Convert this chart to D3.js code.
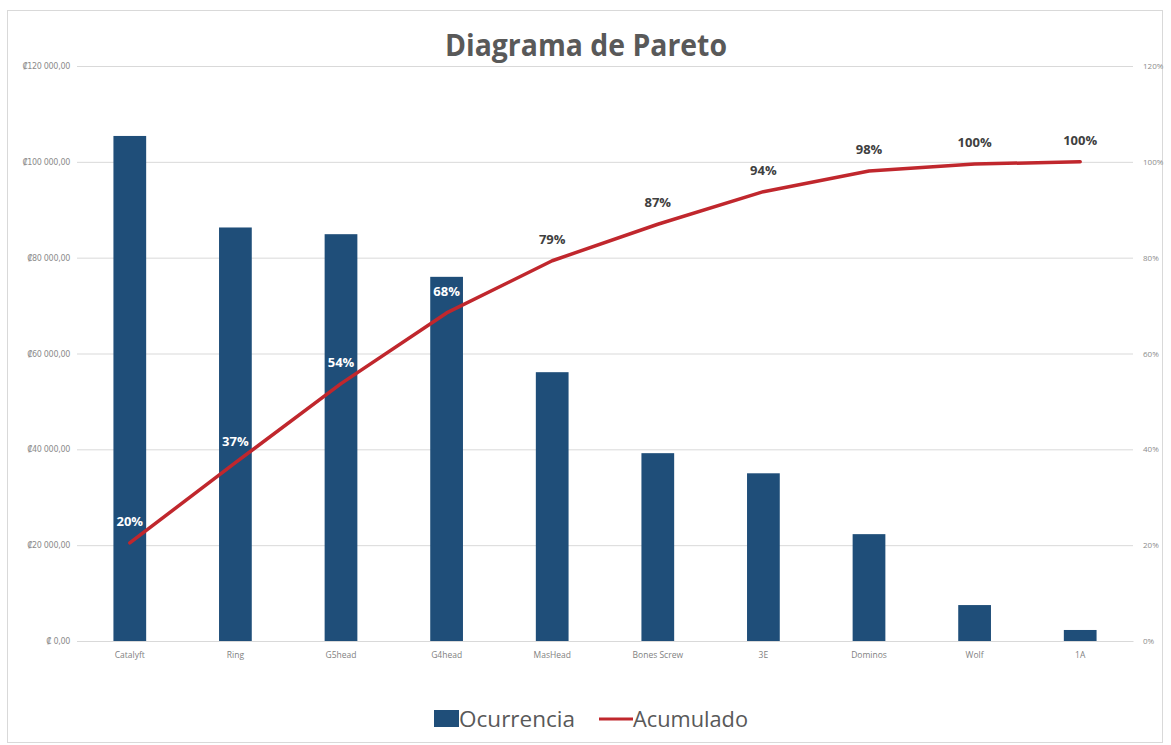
<!DOCTYPE html>
<html>
<head>
<meta charset="utf-8">
<script src="https://cdn.jsdelivr.net/npm/d3@7/dist/d3.min.js"></script>
<style>
  html, body { margin: 0; padding: 0; background: #ffffff; }
  svg { display: block; }
</style>
</head>
<body>
<script>
// Pareto data: occurrence amounts per item, sorted descending
const categories = ["Catalyft", "Ring", "G5head", "G4head", "MasHead", "Bones Screw", "3E", "Dominos", "Wolf", "1A"];
const ocurrencia = [105400, 86300, 84900, 76000, 56100, 39200, 35000, 22300, 7500, 2300];
const leftTicks = [0, 20000, 40000, 60000, 80000, 100000, 120000];
const rightTicks = [0, 0.2, 0.4, 0.6, 0.8, 1.0, 1.2];
const legendLabels = ["Ocurrencia", "Acumulado"];
const titleText = "Diagrama de Pareto";

// cumulative share of the total
const total = d3.sum(ocurrencia);
const acumulado = d3.cumsum(ocurrencia).map(v => v / total);

const W = 1171, H = 745;
const plot = { left: 77, right: 1133, top: 66, bottom: 641 };

const svg = d3.select("body").append("svg")
  .attr("width", W).attr("height", H);

// chart frame
svg.append("rect")
  .attr("x", 7.5).attr("y", 10.5)
  .attr("width", 1155).attr("height", 732)
  .attr("fill", "#ffffff")
  .attr("stroke", "#d9d9d9");

const x = d3.scaleBand().domain(categories)
  .range([plot.left, plot.right]).paddingInner(0.69).paddingOuter(0.345);
const y = d3.scaleLinear().domain([0, 120000]).range([plot.bottom, plot.top]);
const y2 = d3.scaleLinear().domain([0, 1.2]).range([plot.bottom, plot.top]);

const axisFont = "'Open Sans', 'Noto Sans', sans-serif";
const tickFont = "'DejaVu Sans', 'Noto Sans', sans-serif";

// gridlines + left axis (colón currency)
const colonFmt = v => {
  if (v === 0) return "\u20A1 0,00";
  const s = d3.format(",")(v).replace(/,/g, " ");
  return "\u20A1" + s + ",00";
};
const yAxis = d3.axisLeft(y).tickValues(leftTicks).tickFormat(colonFmt)
  .tickSize(-(plot.right - plot.left)).tickPadding(7);
const gy = svg.append("g").attr("transform", `translate(${plot.left},0)`).call(yAxis);
gy.select(".domain").remove();
gy.selectAll(".tick line").attr("stroke", "#d9d9d9").attr("stroke-width", 1);
gy.selectAll(".tick text")
  .attr("fill", "#8c8c8c").attr("font-size", 8).attr("font-family", tickFont)
  .attr("letter-spacing", -0.3);

// right axis
const y2Axis = d3.axisRight(y2).tickValues(rightTicks).tickFormat(d3.format(".0%"))
  .tickSize(0).tickPadding(10);
const gy2 = svg.append("g").attr("transform", `translate(${plot.right},0)`).call(y2Axis);
gy2.select(".domain").remove();
gy2.selectAll(".tick text")
  .attr("fill", "#8c8c8c").attr("font-size", 8).attr("font-family", axisFont);

// bars
svg.append("g").selectAll("rect")
  .data(ocurrencia)
  .join("rect")
  .attr("x", (d, i) => x(categories[i]))
  .attr("y", d => y(d))
  .attr("width", x.bandwidth())
  .attr("height", d => y(0) - y(d))
  .attr("fill", "#1f4e79");

// x axis
const xAxis = d3.axisBottom(x).tickSize(0).tickPadding(11);
const gx = svg.append("g").attr("transform", `translate(0,${plot.bottom})`).call(xAxis);
gx.select(".domain").attr("stroke", "#d9d9d9");
gx.selectAll(".tick text")
  .attr("fill", "#7f7f7f").attr("font-size", 8.5).attr("font-family", axisFont);

// cumulative line
const cx = i => x(categories[i]) + x.bandwidth() / 2;
const line = d3.line().x((d, i) => cx(i)).y(d => y2(d));
svg.append("path")
  .datum(acumulado)
  .attr("d", line)
  .attr("fill", "none")
  .attr("stroke", "#c0272d")
  .attr("stroke-width", 3.5)
  .attr("stroke-linejoin", "round")
  .attr("stroke-linecap", "round");

// cumulative labels (white where they sit on a bar)
svg.append("g").selectAll("text")
  .data(acumulado)
  .join("text")
  .attr("x", (d, i) => cx(i))
  .attr("y", d => y2(d) - 17)
  .attr("text-anchor", "middle")
  .attr("font-family", axisFont)
  .attr("font-size", 13)
  .attr("font-weight", "bold")
  .attr("fill", (d, i) => y2(d) - 28 > y(ocurrencia[i]) ? "#ffffff" : "#404040")
  .text(d => d3.format(".0%")(d));

// title
svg.append("text")
  .attr("x", 586).attr("y", 56)
  .attr("text-anchor", "middle")
  .attr("font-family", axisFont)
  .attr("font-size", 30)
  .attr("font-weight", "bold")
  .attr("fill", "#595959")
  .attr("textLength", 282)
  .attr("lengthAdjust", "spacingAndGlyphs")
  .text(titleText);

// legend
const lg = svg.append("g");
lg.append("rect")
  .attr("x", 434).attr("y", 710).attr("width", 25).attr("height", 17)
  .attr("fill", "#1f4e79");
lg.append("text")
  .attr("x", 459).attr("y", 727)
  .attr("font-family", axisFont).attr("font-size", 21)
  .attr("fill", "#595959")
  .attr("textLength", 116)
  .attr("lengthAdjust", "spacingAndGlyphs")
  .text(legendLabels[0]);
lg.append("line")
  .attr("x1", 599).attr("x2", 633).attr("y1", 719).attr("y2", 719)
  .attr("stroke", "#c0272d").attr("stroke-width", 3);
lg.append("text")
  .attr("x", 633).attr("y", 727)
  .attr("font-family", axisFont).attr("font-size", 21)
  .attr("fill", "#595959")
  .attr("textLength", 115)
  .attr("lengthAdjust", "spacingAndGlyphs")
  .text(legendLabels[1]);
</script>
</body>
</html>
